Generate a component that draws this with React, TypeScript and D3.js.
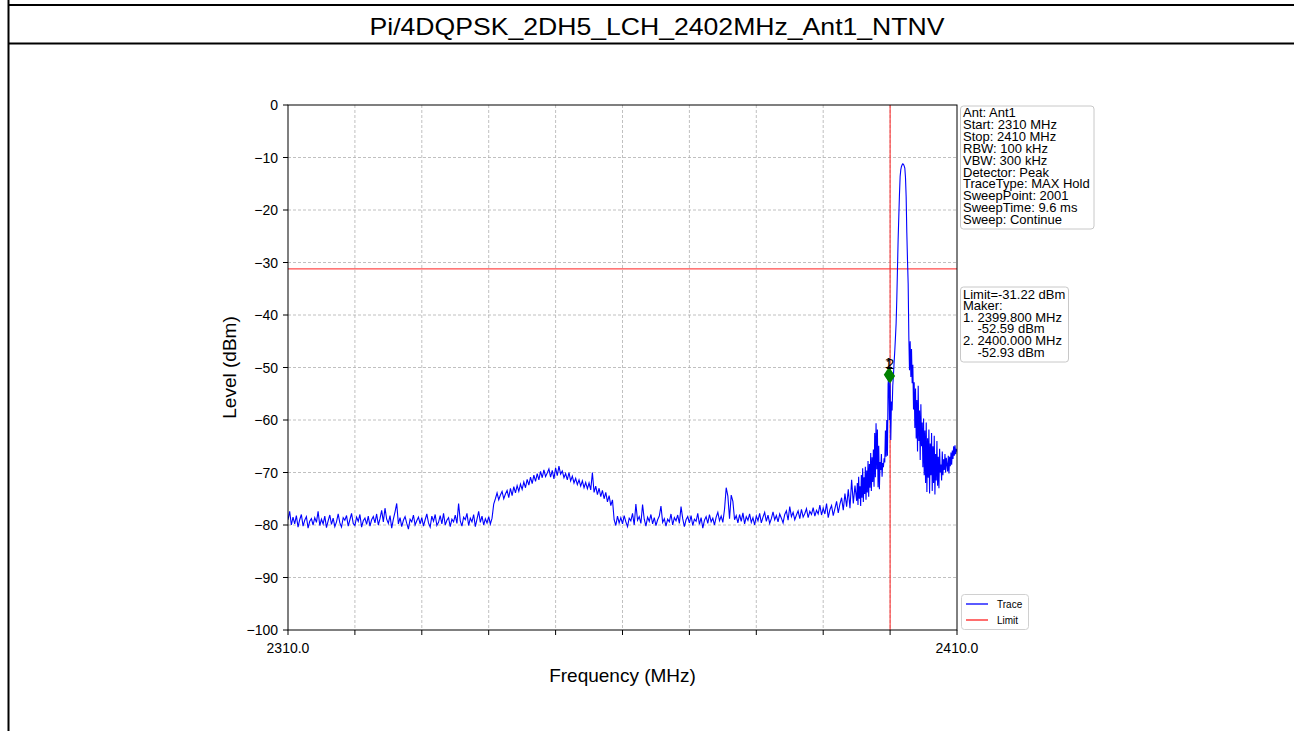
import React from "react";
import * as d3 from "d3";

// ---------- data ----------
const title = "Pi/4DQPSK_2DH5_LCH_2402MHz_Ant1_NTNV";
const freqStart = 2310;
const freqStop = 2410;
const levelMin = -100;
const levelMax = 0;
const limitLevel = -31.22;
const bandEdgeFreq = 2400;

// coarse trace: 2310.00 .. 2395.00 MHz, every 0.25 MHz
const coarseStart = 2310;
const coarseStep = 0.25;
const traceCoarse: number[] = [
  -79,-77.4,-80,-78.5,-79.8,-78.2,-80.4,-79,-78,-80.2,-79.1,-78.4,-80.6,-79.3,-78.8,-80,-78.6,-79.5,-77.4,-80.1,
  -78.9,-79.8,-78.3,-80.5,-79.2,-78.1,-79.9,-78.7,-80.3,-79.4,-77.9,-79.6,-80.4,-78.6,-79.1,-78.2,-80.2,-79,-77.8,-79.7,
  -80.1,-78.5,-79.3,-78.0,-80.4,-79.2,-78.7,-79.9,-78.3,-80.2,-79.0,-78.4,-79.6,-77.9,-80.0,-78.8,-77.2,-79.4,-76.8,-78.9,
  -79.7,-78.2,-80.6,-78.9,-77.5,-75.9,-79.8,-78.6,-80.3,-79.1,-78.4,-79.7,-80.8,-78.9,-79.4,-78.1,-80.0,-79.2,-78.5,-79.8,
  -78.6,-80.2,-79.0,-77.9,-79.6,-80.4,-78.3,-79.3,-78.0,-80.1,-79.5,-78.2,-79.8,-77.8,-80.0,-79.1,-78.6,-80.3,-78.9,-79.4,
  -78.1,-79.7,-75.9,-79.2,-80.2,-78.5,-79.0,-77.8,-80.1,-78.7,-79.4,-78.0,-80.3,-78.9,-77.4,-79.5,-78.3,-80.0,-78.8,-79.6,
  -78.4,-79.8,-78.7,-76.0,-75.0,-73.9,-75.2,-74.3,-73.6,-75.0,-74.1,-73.4,-74.8,-73.0,-74.4,-72.7,-73.9,-72.5,-73.6,-72.2,
  -73.2,-71.8,-72.9,-71.3,-72.4,-70.9,-72.1,-70.5,-71.7,-70.2,-71.4,-69.8,-71.0,-69.5,-70.8,-70.1,-69.3,-70.9,-69.6,-71.2,
  -69.1,-70.6,-68.8,-70.3,-69.7,-71.0,-70.2,-71.4,-70.0,-71.6,-70.7,-72.0,-71.1,-72.3,-71.4,-72.6,-71.6,-72.9,-71.9,-73.1,
  -72.0,-73.3,-70.0,-73.8,-72.6,-74.2,-73.0,-74.6,-73.4,-75.0,-73.8,-75.6,-74.4,-76.3,-75.2,-79.0,-80.1,-78.3,-79.6,-78.6,
  -79.8,-78.2,-79.4,-80.3,-78.7,-79.2,-77.8,-80.0,-76.0,-79.1,-78.4,-79.7,-76.1,-78.9,-80.2,-78.5,-79.3,-78.0,-79.8,-78.6,
  -80.1,-79.0,-78.3,-76.4,-79.5,-78.8,-80.2,-78.9,-79.4,-77.9,-80.0,-78.6,-79.2,-78.1,-79.7,-76.5,-78.8,-80.3,-79.0,-78.4,
  -79.6,-78.2,-80.1,-78.9,-79.3,-77.8,-79.9,-78.6,-80.6,-79.1,-78.4,-79.7,-78.0,-79.4,-78.7,-80.0,-78.5,-77.6,-79.2,-78.3,
  -79.5,-77.0,-72.9,-74.5,-78.8,-74.3,-75.5,-79.0,-78.2,-79.6,-78.0,-79.3,-77.7,-79.8,-78.4,-79.1,-77.9,-79.5,-78.6,-80.0,
  -78.3,-79.2,-77.8,-79.6,-78.5,-77.6,-79.3,-78.1,-79.7,-78.8,-77.5,-79.0,-78.2,-79.4,-77.9,-78.7,-79.6,-78.0,-77.3,-79.1,
  -76.5,-78.4,-77.6,-79.0,-78.1,-77.3,-78.8,-77.0,-78.5,-77.8,-76.9,-78.6,-77.4,-78.0,-76.7,-78.3,-77.2,-77.9,-76.2,-78.1,
  -76.8,-77.9,-75.9,-78.6,-77.1,-76.3,-78.2,-76.9,-75.5,-77.7,-76.0,-74.8,-77.2,-74.0,-76.5,-73.2,-76.8,-71.4,-75.9,-72.5,
  -75.4,
];

// fine trace: 2395.1 .. 2410.0 MHz, every 0.1 MHz
const fineStart = 2395.1;
const fineStep = 0.1;
const traceFine: number[] = [
  -72.0,-76.2,-70.8,-75.0,-72.6,-76.4,-70.5,-74.8,-69.2,-75.6,
  -70.9,-74.1,-68.9,-75.2,-69.6,-73.8,-67.8,-74.6,-68.4,-72.9,
  -66.3,-73.5,-67.1,-71.8,-65.6,-72.7,-62.5,-70.9,-60.6,-69.4,
  -61.8,-72.8,-64.9,-73.2,-68.0,-69.5,-66.5,-70.8,-68.2,-69.0,
  -67.3,-68.1,-62.0,-67.0,-60.0,-66.8,-53.2,-51.5,-60.0,-52.9,
  -63.8,-56.5,-58.2,-53.4,-51.5,-49.0,-46.8,-44.3,-41.6,-37.0,
  -31.4,-25.6,-21.3,-17.0,-13.6,-12.3,-11.7,-11.4,-11.2,-11.3,
  -11.6,-12.0,-13.8,-17.5,-24.4,-29.5,-34.0,-44.1,-50.5,-45.0,
  -51.8,-46.5,-53.0,-49.5,-58.0,-52.8,-61.5,-54.0,-63.5,-56.2,
  -66.0,-53.5,-64.0,-58.2,-67.6,-57.0,-65.0,-60.5,-69.0,-59.7,
  -70.5,-62.0,-72.0,-60.5,-73.7,-63.5,-71.0,-61.8,-74.0,-64.5,
  -70.5,-62.5,-73.5,-65.0,-72.0,-63.0,-74.2,-66.5,-71.5,-64.0,
  -72.5,-67.0,-73.0,-65.5,-70.0,-68.5,-71.5,-66.0,-70.5,-67.5,
  -69.5,-66.5,-70.0,-67.2,-68.5,-69.8,-66.8,-70.2,-67.0,-68.8,
  -66.2,-68.5,-65.8,-67.4,-65.0,-66.8,-64.8,-66.5,-65.5,-66.0,
];

const markerIds = ["1", "2"];
const markerFreqs = [2399.8, 2400.0];
const markerPlotLevels = [-51.4, -51.6];

const yTicks = [0, -10, -20, -30, -40, -50, -60, -70, -80, -90, -100];
const xTicks = [2310, 2320, 2330, 2340, 2350, 2360, 2370, 2380, 2390, 2400, 2410];
const xTickLabels = ["2310.0", "", "", "", "", "", "", "", "", "", "2410.0"];

const infoLines = [
  "Ant: Ant1",
  "Start: 2310 MHz",
  "Stop: 2410 MHz",
  "RBW: 100 kHz",
  "VBW: 300 kHz",
  "Detector: Peak",
  "TraceType: MAX Hold",
  "SweepPoint: 2001",
  "SweepTime: 9.6 ms",
  "Sweep: Continue",
];
const markerInfoLines = [
  "Limit=-31.22 dBm",
  "Maker:",
  "1. 2399.800 MHz",
  "    -52.59 dBm",
  "2. 2400.000 MHz",
  "    -52.93 dBm",
];
const legendNames = ["Trace", "Limit"];
const legendColors = ["#0000ff", "#ff2020"];

// ---------- component ----------
export default function App() {
  const W = 1294;
  const H = 731;
  const left = 288, right = 957, top = 105, bottom = 630;
  const x = d3.scaleLinear().domain([freqStart, freqStop]).range([left, right]);
  const y = d3.scaleLinear().domain([levelMin, levelMax]).range([bottom, top]);

  const pts: [number, number][] = [];
  traceCoarse.forEach((v, i) => pts.push([coarseStart + i * coarseStep, v]));
  traceFine.forEach((v, i) => pts.push([fineStart + i * fineStep, v]));
  const line = d3
    .line<[number, number]>()
    .x((d) => x(d[0]))
    .y((d) => y(d[1]));

  const font = "'Liberation Sans', Arial, Helvetica, sans-serif";
  const minus = (v: number) => (v < 0 ? "\u2212" + Math.abs(v) : String(v));

  return (
    <div style={{ position: "absolute", left: 0, top: 0, width: W, height: H }}>
      <svg width={W} height={H} style={{ display: "block", fontFamily: font }}>
        <rect x={0} y={0} width={W} height={H} fill="#ffffff" />
        {/* table frame */}
        <line x1={8.5} y1={0} x2={8.5} y2={H} stroke="#000" strokeWidth={2} />
        <line x1={8} y1={5} x2={W} y2={5} stroke="#000" strokeWidth={2} />
        <line x1={8} y1={43.5} x2={W} y2={43.5} stroke="#000" strokeWidth={2} />
        <text x={657} y={35} textAnchor="middle" fontSize={24} fill="#000" textLength={575} lengthAdjust="spacingAndGlyphs">
          {title}
        </text>

        {/* grid */}
        <g stroke="#b0b0b0" strokeWidth={0.8} strokeDasharray="3,2">
          {xTicks.slice(1, -1).map((t) => (
            <line key={"gx" + t} x1={x(t)} x2={x(t)} y1={top} y2={bottom} />
          ))}
          {yTicks.slice(1, -1).map((t) => (
            <line key={"gy" + t} x1={left} x2={right} y1={y(t)} y2={y(t)} />
          ))}
        </g>

        {/* limit + band edge */}
        <line x1={left} x2={right} y1={y(limitLevel)} y2={y(limitLevel)} stroke="#ff2020" strokeWidth={1} />
        <line x1={x(bandEdgeFreq)} x2={x(bandEdgeFreq)} y1={top} y2={bottom} stroke="#ff2020" strokeWidth={1} />

        {/* trace */}
        <defs>
          <clipPath id="plotclip">
            <rect x={left} y={top} width={right - left} height={bottom - top} />
          </clipPath>
        </defs>
        <path d={line(pts) || ""} fill="none" stroke="#0000ff" strokeWidth={1.1} clipPath="url(#plotclip)" />

        {/* markers */}
        {markerFreqs.map((f, i) => {
          const cx = x(f);
          const cy = y(markerPlotLevels[i]);
          return (
            <g key={"m" + i}>
              <path d={`M${cx},${cy - 7.5} L${cx + 5},${cy} L${cx},${cy + 7.5} L${cx - 5},${cy} Z`} fill="#008000" />
              <text x={cx} y={cy - 7} textAnchor="middle" fontSize={15} fill="#000">
                {markerIds[i]}
              </text>
            </g>
          );
        })}

        {/* frame */}
        <rect x={left} y={top} width={right - left} height={bottom - top} fill="none" stroke="#000" strokeWidth={1} />

        {/* ticks */}
        {yTicks.map((t) => (
          <g key={"yt" + t}>
            <line x1={left - 5} x2={left} y1={y(t)} y2={y(t)} stroke="#000" strokeWidth={1} />
            <text x={left - 10} y={y(t) + 5} textAnchor="end" fontSize={14} fill="#000">
              {minus(t)}
            </text>
          </g>
        ))}
        {xTicks.map((t, i) => (
          <g key={"xt" + t}>
            <line x1={x(t)} x2={x(t)} y1={bottom} y2={bottom + 5} stroke="#000" strokeWidth={1} />
            {xTickLabels[i] && (
              <text x={x(t)} y={bottom + 23} textAnchor="middle" fontSize={14} fill="#000">
                {xTickLabels[i]}
              </text>
            )}
          </g>
        ))}

        {/* axis labels */}
        <text x={(left + right) / 2} y={682} textAnchor="middle" fontSize={19} fill="#000">
          Frequency (MHz)
        </text>
        <text transform={`translate(236,${(top + bottom) / 2}) rotate(-90)`} textAnchor="middle" fontSize={19} fill="#000">
          Level (dBm)
        </text>

        {/* info box */}
        <rect x={960.5} y={106} width={133.5} height={123} rx={3} fill="#fff" stroke="#c8c8c8" strokeWidth={1} />
        {infoLines.map((s, i) => (
          <text key={"i" + i} x={963} y={117} dy={i * 11.9} fontSize={13} fill="#000" style={{ whiteSpace: "pre" }}>
            {s}
          </text>
        ))}
        <rect x={960.5} y={287} width={108} height={75} rx={3} fill="#fff" stroke="#c8c8c8" strokeWidth={1} />
        {markerInfoLines.map((s, i) => (
          <text key={"mi" + i} x={963} y={298.5} dy={i * 11.6} fontSize={13} fill="#000" style={{ whiteSpace: "pre" }}>
            {s}
          </text>
        ))}

        {/* legend */}
        <rect x={961.5} y={594.5} width={67} height={35} rx={3} fill="#fff" stroke="#d0d0d0" strokeWidth={1} />
        {legendNames.map((n, i) => (
          <g key={"l" + i}>
            <line x1={966} x2={988} y1={604 + i * 16} y2={604 + i * 16} stroke={legendColors[i]} strokeWidth={1.3} />
            <text x={997} y={607.5 + i * 16} fontSize={10} fill="#000">
              {n}
            </text>
          </g>
        ))}
      </svg>
    </div>
  );
}
